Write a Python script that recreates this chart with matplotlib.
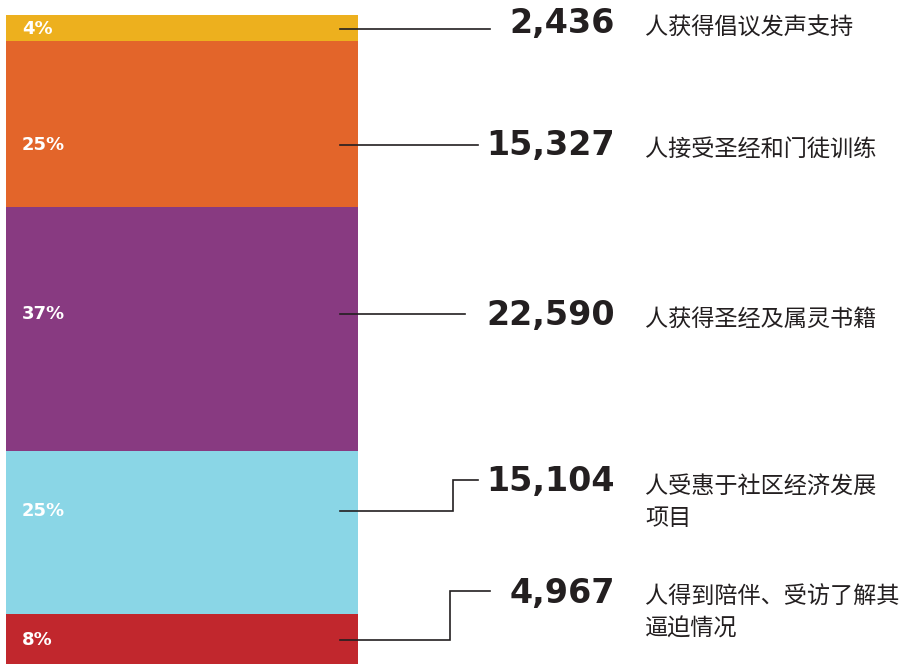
import numpy as np
import matplotlib.pyplot as plt

# data, top to bottom
counts = [2436, 15327, 22590, 15104, 4967]
pct_labels = ["4%", "25%", "37%", "25%", "8%"]
num_labels = ["2,436", "15,327", "22,590", "15,104", "4,967"]
descs = ["人获得倡议发声支持",
         "人接受圣经和门徒训练",
         "人获得圣经及属灵书籍",
         "人受惠于社区经济发展\n项目",
         "人得到陪伴、受访了解其\n逼迫情况"]
colors = ["#EDB01E", "#E3652A", "#883A81", "#8AD6E6", "#C1272D"]

W, H = 906, 664
fig = plt.figure(figsize=(W / 100, H / 100), dpi=100)

# stacked bar (runs a little past the bottom edge)
total = sum(counts)
bar_h = total * 0.0108
ax = fig.add_axes([6 / W, (H - 15 - bar_h) / H, 352 / W, bar_h / H])
bottoms = np.concatenate([[0], np.cumsum(counts)[:-1]])
ax.bar(0.5, counts, bottom=bottoms, width=1, color=colors, linewidth=0)
ax.set_xlim(0, 1)
ax.set_ylim(total, 0)
ax.axis("off")

# overlay in pixel coords for labels and leaders
ov = fig.add_axes([0, 0, 1, 1])
ov.set_xlim(0, W)
ov.set_ylim(H, 0)
ov.axis("off")
ov.patch.set_alpha(0)

lead_y = [29, 145, 314, 511, 640]
num_y = [24, 146, 315, 482, 593]
line_end_x = [490, 478, 465, 478, 490]
elbow_x = [None, None, None, 453, 450]
for i in range(len(counts)):
    y0 = lead_y[i]
    ov.text(22, y0, pct_labels[i], color="white", fontsize=13, fontweight="bold",
            va="center", ha="left")
    if elbow_x[i] is None:
        xs, ys = [340, line_end_x[i]], [y0, y0]
    else:
        ty = num_y[i] - 2
        xs = [340, elbow_x[i], elbow_x[i], line_end_x[i]]
        ys = [y0, y0, ty, ty]
    ov.plot(xs, ys, color="#231F20", lw=1.2, solid_joinstyle="miter")
    ov.text(615, num_y[i], num_labels[i], ha="right", va="center",
            fontsize=24, fontweight="bold", color="#231F20")
    ov.text(645, num_y[i] - 7, descs[i], ha="left", va="top",
            fontsize=16.7, fontweight="medium",
            family=["Noto Sans CJK SC", "DejaVu Sans"],
            color="#231F20", linespacing=1.5)

fig.savefig("out.png", dpi=100)
